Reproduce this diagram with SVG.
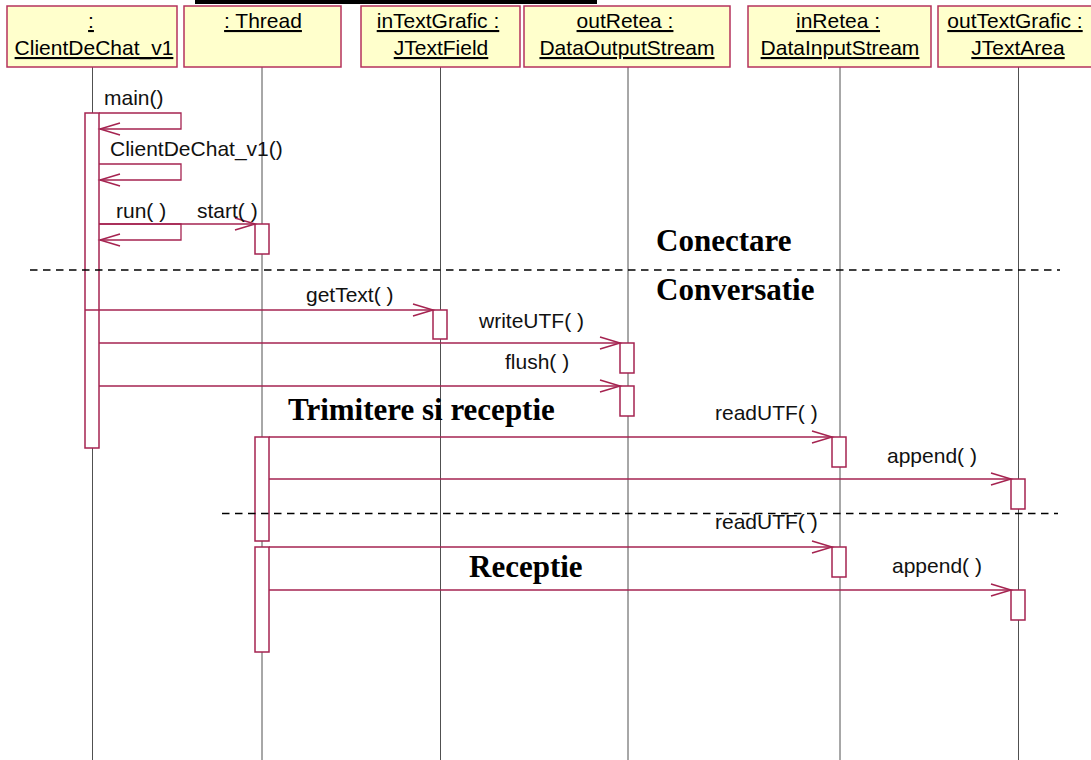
<svg xmlns="http://www.w3.org/2000/svg" width="1091" height="760" viewBox="0 0 1091 760">
  <style>
    .obj { fill: #FFFFCC; stroke: #B5325C; stroke-width: 1.5; }
    .objtxt { font-family: "Liberation Sans", Arial, sans-serif; font-size: 21px; fill: #000; text-anchor: middle; text-decoration: underline; }
    .life { stroke: #505050; stroke-width: 1; fill: none; }
    .act { fill: #fff; stroke: #A52350; stroke-width: 1.5; }
    .msg { stroke: #A52350; stroke-width: 1.3; fill: none; marker-end: url(#open); }
    .lbl { font-family: "Liberation Sans", Arial, sans-serif; font-size: 21px; fill: #111; }
    .frag { font-family: "Liberation Serif", "Times New Roman", serif; font-size: 31px; font-weight: bold; fill: #000; }
    .sep { stroke: #000; stroke-width: 1.6; stroke-dasharray: 7.5 5.5; fill: none; }
  </style>
  <defs>
    <marker id="open" markerUnits="userSpaceOnUse" markerWidth="22" markerHeight="14" refX="20" refY="7" orient="auto" overflow="visible">
      <path d="M0,1 L20,7 L0,13" fill="none" stroke="#A52350" stroke-width="1.5"/>
    </marker>
  </defs>

  <rect width="1091" height="760" fill="#fff"/>

  <!-- title underline, cut by the page edge -->
  <rect x="195" y="0" width="402" height="4" fill="#000"/>

  <!-- lifelines -->
  <g id="lifelines">
    <line class="life" x1="92.5" y1="67" x2="92.5" y2="760"/>
    <line class="life" x1="262" y1="67" x2="262" y2="760"/>
    <line class="life" x1="440.5" y1="67" x2="440.5" y2="760"/>
    <line class="life" x1="628" y1="67" x2="628" y2="760"/>
    <line class="life" x1="840" y1="67" x2="840" y2="760"/>
    <line class="life" x1="1018.5" y1="67" x2="1018.5" y2="760"/>
  </g>

  <!-- objects -->
  <g id="client">
    <rect class="obj" x="7" y="6" width="170" height="61"/>
    <text class="objtxt" x="91" y="28">:</text>
    <text class="objtxt" x="94" y="55">ClientDeChat_v1</text>
    <rect class="act" x="85" y="113" width="14" height="335"/>
  </g>
  <g id="thread">
    <rect class="obj" x="184" y="6" width="157" height="61"/>
    <text class="objtxt" x="263" y="28">: Thread</text>
    <rect class="act" x="255" y="224" width="14" height="30"/>
    <rect class="act" x="255" y="437" width="14" height="104"/>
    <rect class="act" x="255" y="547" width="14" height="105"/>
  </g>
  <g id="inTextGrafic">
    <rect class="obj" x="361" y="6" width="159" height="61"/>
    <text class="objtxt" x="438" y="28">inTextGrafic :</text>
    <text class="objtxt" x="441" y="55">JTextField</text>
    <rect class="act" x="433" y="310" width="14" height="29"/>
  </g>
  <g id="outRetea">
    <rect class="obj" x="524" y="6" width="206" height="61"/>
    <text class="objtxt" x="625" y="28">outRetea :</text>
    <text class="objtxt" x="627" y="55">DataOutputStream</text>
    <rect class="act" x="620" y="343" width="14" height="30"/>
    <rect class="act" x="620" y="386" width="14" height="30"/>
  </g>
  <g id="inRetea">
    <rect class="obj" x="748" y="6" width="183" height="61"/>
    <text class="objtxt" x="838" y="28">inRetea :</text>
    <text class="objtxt" x="840" y="55">DataInputStream</text>
    <rect class="act" x="832" y="437" width="14" height="30"/>
    <rect class="act" x="832" y="547" width="14" height="30"/>
  </g>
  <g id="outTextGrafic">
    <rect class="obj" x="938" y="6" width="160" height="61"/>
    <text class="objtxt" x="1015" y="28">outTextGrafic :</text>
    <text class="objtxt" x="1018" y="55">JTextArea</text>
    <rect class="act" x="1011" y="479" width="14" height="30"/>
    <rect class="act" x="1011" y="590" width="14" height="30"/>
  </g>

  <!-- fragment separators and titles -->
  <g id="fragments">
    <line class="sep" x1="30" y1="270" x2="1060" y2="270"/>
    <line class="sep" x1="222" y1="513.5" x2="1058" y2="513.5"/>
    <text class="frag" x="656" y="251">Conectare</text>
    <text class="frag" x="656" y="300">Conversatie</text>
    <text class="frag" x="288" y="420" font-size="32">Trimitere si receptie</text>
    <text class="frag" x="469" y="577">Receptie</text>
  </g>

  <!-- messages -->
  <g id="connectors">
    <polyline class="msg" points="99,113 181,113 181,129 100,129"/>
    <polyline class="msg" points="99,164 181,164 181,180 100,180"/>
    <polyline class="msg" points="99,224 181,224 181,240 100,240"/>
    <line class="msg" x1="99" y1="224" x2="255" y2="224"/>
    <line class="msg" x1="85" y1="310" x2="433" y2="310"/>
    <line class="msg" x1="99" y1="343" x2="620" y2="343"/>
    <line class="msg" x1="99" y1="386" x2="620" y2="386"/>
    <line class="msg" x1="269" y1="437" x2="832" y2="437"/>
    <line class="msg" x1="269" y1="479" x2="1011" y2="479"/>
    <line class="msg" x1="269" y1="547" x2="832" y2="547"/>
    <line class="msg" x1="269" y1="590" x2="1011" y2="590"/>
  </g>

  <g id="labels">
    <text class="lbl" x="104" y="105">main()</text>
    <text class="lbl" x="110" y="156">ClientDeChat_v1()</text>
    <text class="lbl" x="116" y="218">run( )</text>
    <text class="lbl" x="197" y="218">start( )</text>
    <text class="lbl" x="306" y="302">getText( )</text>
    <text class="lbl" x="479" y="328">writeUTF( )</text>
    <text class="lbl" x="505" y="369">flush( )</text>
    <text class="lbl" x="715" y="420">readUTF( )</text>
    <text class="lbl" x="887" y="463">append( )</text>
    <text class="lbl" x="715" y="529">readUTF( )</text>
    <text class="lbl" x="892" y="573">append( )</text>
  </g>
</svg>
